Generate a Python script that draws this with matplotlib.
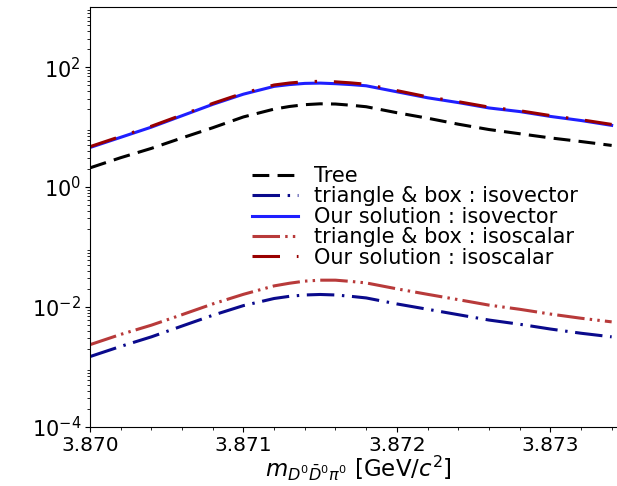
import matplotlib
matplotlib.use("Agg")
import matplotlib.pyplot as plt
from matplotlib.ticker import MultipleLocator, FormatStrFormatter, LogLocator

mass = [3.8700, 3.8702, 3.8704, 3.8706, 3.8708, 3.8710, 3.8712, 3.8713, 3.8714,
        3.8715, 3.8716, 3.8717, 3.8718, 3.8720, 3.8722, 3.8724, 3.8726, 3.8728,
        3.8730, 3.8732, 3.8734]

tree = [2.09, 3.09, 4.42, 6.61, 9.77, 14.8, 20.0, 22.1, 23.7, 24.5, 24.3, 23.2,
        21.9, 17.4, 14.1, 11.2, 9.12, 7.76, 6.61, 5.75, 4.95]

tri_box_isovector = [0.00148, 0.00219, 0.00316, 0.00479, 0.00724, 0.0105, 0.0138,
                     0.0150, 0.0158, 0.0161, 0.0158, 0.0150, 0.0141, 0.0112,
                     0.00912, 0.00741, 0.00603, 0.00513, 0.00427, 0.00363, 0.00316]

our_isovector = [4.57, 6.76, 10.0, 15.5, 24.0, 35.5, 47.9, 51.3, 53.7, 54.3, 53.1,
                 51.3, 49.0, 38.9, 30.9, 25.7, 20.9, 18.2, 15.1, 12.9, 10.7]

tri_box_isoscalar = [0.00234, 0.00347, 0.00495, 0.00741, 0.0112, 0.0162, 0.0224,
                     0.0248, 0.0269, 0.0279, 0.0279, 0.0266, 0.0251, 0.0200,
                     0.0162, 0.0132, 0.0107, 0.00912, 0.00759, 0.00646, 0.00562]

our_isoscalar = [4.72, 7.0, 10.35, 16.0, 24.9, 37.0, 50.5, 54.5, 57.3, 58.2, 57.0,
                 54.8, 52.0, 40.7, 32.0, 26.6, 21.6, 18.8, 15.6, 13.3, 11.1]

labels = ["Tree", "triangle & box : isovector", "Our solution : isovector",
          "triangle & box : isoscalar", "Our solution : isoscalar"]

W, H = 617, 486
fig = plt.figure(figsize=(W / 100, H / 100), dpi=100)
ax = fig.add_axes([90 / W, (H - 426.7) / H, 537 / W, 419.4 / H])

lw = 2.2
ax.plot(mass, tree, color="black", lw=lw, linestyle=(0, (5.5, 2.7)), label=labels[0])
ax.plot(mass, tri_box_isovector, color="#0a0a8c", lw=lw,
        linestyle=(0, (9, 2.5, 0.8, 2.5)), label=labels[1])
ax.plot(mass, our_isovector, color="#1f1fff", lw=lw, label=labels[2])
ax.plot(mass, tri_box_isoscalar, color="#b83a3a", lw=lw,
        linestyle=(0, (9, 1.7, 0.8, 1.7, 0.8, 1.7)), label=labels[3])
ax.plot(mass, our_isoscalar, color="#990000", lw=lw,
        linestyle=(0, (9, 5.5, 0.8, 5.5)), label=labels[4])

ax.set_yscale("log")
ax.set_ylim(1e-4, 1e3)
ax.set_xlim(3.8700, 3.8735)
ax.xaxis.set_major_locator(MultipleLocator(0.001))
ax.xaxis.set_minor_locator(MultipleLocator(0.0002))
ax.xaxis.set_major_formatter(FormatStrFormatter("%.3f"))
ax.set_yticks([1e-4, 1e-2, 1e0, 1e2])
ax.yaxis.set_minor_locator(LogLocator(base=10, subs=range(2, 10), numticks=20))
ax.tick_params(axis="x", which="major", labelsize=14.5, pad=3.5)
ax.tick_params(axis="y", which="major", labelsize=15, pad=3)

ax.set_xlabel(r"$m_{D^0\bar{D}^0\pi^0}$ [GeV/$c^2$]", fontsize=16.5, labelpad=-1)

leg = ax.legend(loc="upper left", bbox_to_anchor=(252 / W, 1 - 166 / H),
                bbox_transform=fig.transFigure, frameon=False, fontsize=15,
                borderpad=0, borderaxespad=0, labelspacing=0.02,
                handlelength=2.2, handletextpad=0.8)

fig.savefig("out.png", dpi=100)
